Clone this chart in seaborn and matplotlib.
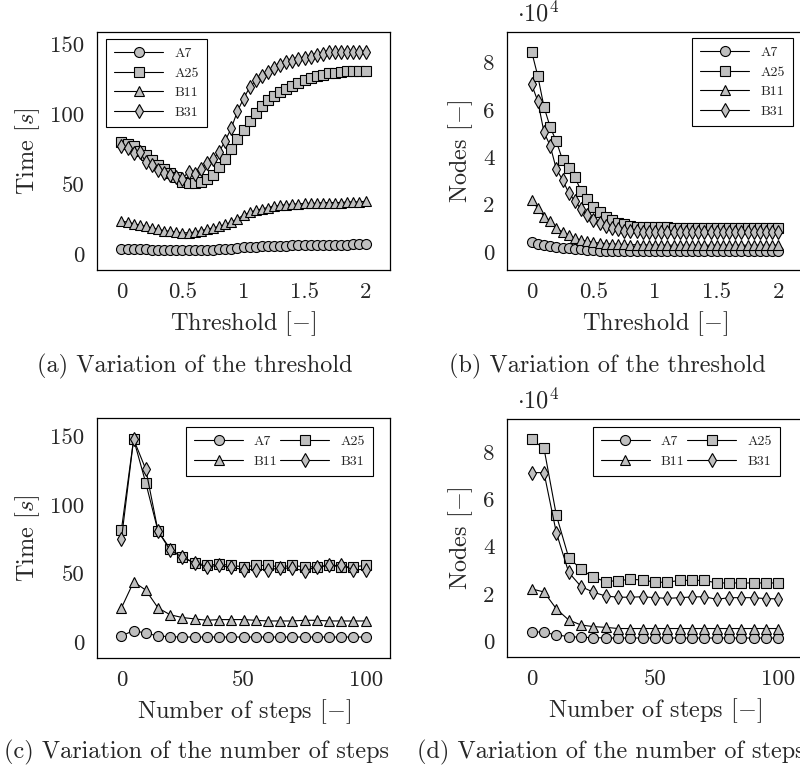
import numpy as np
import pandas as pd
import seaborn as sns
import matplotlib.pyplot as plt
from matplotlib import ticker

#%% data
# (a) / (b) : threshold from 0 to 2, step 0.05
threshold = [round(0.05 * i, 2) for i in range(41)]

time_thr_A7 = [4.0, 4.0, 3.8, 3.7, 3.6, 3.5, 3.4, 3.3, 3.3, 3.2, 3.2, 3.2, 3.2, 3.3, 3.4, 3.5,
               3.7, 4.0, 4.3, 4.7, 5.1, 5.4, 5.7, 5.9, 6.1, 6.2, 6.3, 6.4, 6.5, 6.6, 6.7, 6.8,
               6.8, 6.9, 7.0, 7.0, 7.1, 7.1, 7.2, 7.2, 7.3]
time_thr_A25 = [80, 79, 77, 74, 71, 67, 64, 61, 58, 55, 52, 51, 51, 52, 54, 57,
                62, 68, 75, 82, 89, 95, 101, 106, 110, 113, 116, 118, 120, 122, 124, 125.5,
                127, 128, 129, 129.5, 130, 130.5, 131, 131, 131]
time_thr_B11 = [24, 23, 22, 21, 20, 19, 18, 17, 16.5, 16, 15.5, 15.5, 16, 17, 18, 19,
                20, 21.5, 23, 25.5, 28, 30, 31.5, 32.5, 33.5, 34.5, 35, 35.5, 36, 36, 36.5, 36.5,
                36.5, 37, 37, 37, 37, 37.5, 37.5, 37.5, 38]
time_thr_B31 = [77, 76, 72, 73, 66, 64, 60, 58, 57, 55, 54, 59, 57.5, 61, 65, 68,
                73, 81, 90, 102, 111, 119, 124, 127.5, 130, 133, 135, 137, 138, 139, 140, 140.5,
                142, 143, 144.5, 144.5, 144.5, 144.5, 144.5, 144.5, 144.5]

nodes_thr_A7 = [4000, 3500, 3000, 2600, 2200, 1800, 1500, 1200, 1000, 800, 600, 500, 400, 350, 300, 280,
                260, 250, 240, 230, 220, 210, 200, 200, 200, 200, 200, 200, 200, 200, 200, 200,
                200, 200, 200, 200, 200, 200, 200, 200, 200]
nodes_thr_A25 = [84700, 74300, 61300, 52800, 46700, 39000, 35400, 31600, 25900, 22200, 19100, 16700,
                 14900, 13500, 12300, 11600, 11000, 10700, 10500, 10400, 10300, 10300, 10300, 10200,
                 10200, 10200, 10200, 10200, 10200, 10200, 10200, 10200, 10200, 10200, 10200, 10200,
                 10200, 10200, 10200, 10200, 10200]
nodes_thr_B11 = [21900, 18400, 14900, 13200, 9900, 8500, 7100, 5700, 5000, 4500, 4000, 3700,
                 3500, 3300, 3200, 3100, 3000, 3000, 2900, 2900, 2900, 2800, 2800, 2800,
                 2800, 2800, 2800, 2800, 2800, 2800, 2800, 2800, 2800, 2800, 2800, 2800,
                 2800, 2800, 2800, 2800, 2800]
nodes_thr_B31 = [70800, 63700, 50600, 44900, 35000, 30500, 25000, 21500, 18100, 15600, 13500, 12000,
                 11000, 10000, 9500, 9000, 8800, 8600, 8500, 8500, 8500, 8500, 8500, 8500,
                 8500, 8500, 8500, 8500, 8500, 8500, 8500, 8500, 8500, 8500, 8500, 8500,
                 8500, 8500, 8500, 8500, 8500]

# (c) / (d) : number of steps from 0 to 100, step 5
steps = list(range(0, 101, 5))

time_st_A7 = [4.6, 8.5, 6.6, 4.6, 4.0, 3.8, 3.8, 3.8, 3.8, 3.8, 3.8,
              3.8, 3.8, 3.8, 3.8, 3.8, 3.8, 3.8, 3.8, 3.8, 3.8]
time_st_A25 = [82, 148, 116, 81, 68, 62, 58, 56, 57, 56, 55,
               56, 56, 55, 56, 55, 55, 56, 55, 55, 56]
time_st_B11 = [25, 44, 38, 25, 20, 18, 17, 16, 16.5, 16.5, 16.5,
               16, 15.5, 15.5, 15.5, 16, 16, 15.5, 15.5, 15.5, 15.5]
time_st_B31 = [75, 148, 126, 81, 67, 62, 57.6, 55, 56, 54.5, 53,
               53, 53, 54, 54, 52, 55, 56, 56, 53, 53]

nodes_st_A7 = [4200, 3900, 2800, 2100, 1800, 1700, 1500, 1500, 1500, 1500, 1500,
               1500, 1500, 1500, 1500, 1500, 1500, 1500, 1500, 1500, 1500]
nodes_st_A25 = [85200, 81400, 53300, 35400, 30500, 27100, 25300, 25700, 26200, 26000, 25000,
                25000, 25800, 25800, 25800, 24700, 24700, 24700, 24700, 24700, 24700]
nodes_st_B11 = [22200, 20900, 13800, 9100, 7000, 6300, 6000, 5500, 5500, 5500, 5500,
                5500, 5500, 5500, 5500, 5500, 5500, 5500, 5500, 5500, 5500]
nodes_st_B31 = [71200, 71200, 45900, 29200, 23200, 20800, 19200, 18700, 18700, 18900, 18500,
                18200, 18500, 18800, 18900, 17800, 18500, 18500, 18500, 18100, 18000]

cases = ["A7", "A25", "B11", "B31"]

#%% style
sns.set_style("white")
plt.rcParams["font.family"] = ["cmr10", "DejaVu Serif"]
plt.rcParams["mathtext.fontset"] = "cm"
plt.rcParams["axes.formatter.use_mathtext"] = True
plt.rcParams["axes.unicode_minus"] = False

FS_TICK = 16.5
FS_LAB = 17.5
markers = {"A7": ("o", 7.2), "A25": ("s", 7.6), "B11": ("^", 6.5), "B31": ("d", 7.2)}
fill = "#bfbfbf"

fig = plt.figure(figsize=(8, 7.77), dpi=100)
W, H = 800, 777


def px_axes(l, t, r, b):
    return fig.add_axes([l / W, 1 - b / H, (r - l) / W, (b - t) / H])


def draw(ax, x, series, xlim, ylim, xticks, yticks, ylabel, xlabel, scale=1.0,
         loc="upper left", anchor=(0, 1), ncol=1):
    for name, vals in zip(cases, series):
        df = pd.DataFrame({"x": x, "y": np.array(vals) / scale})
        m, ms = markers[name]
        sns.lineplot(data=df, x="x", y="y", ax=ax, color="black", linewidth=0.8,
                     marker=m, markersize=ms, markerfacecolor=fill,
                     markeredgecolor="black", markeredgewidth=0.8, label=name)
    ax.set_xlim(xlim)
    ax.set_ylim(ylim)
    ax.set_xticks(xticks)
    ax.set_yticks(yticks)
    ax.xaxis.set_major_formatter(ticker.FormatStrFormatter("%g"))
    ax.yaxis.set_major_formatter(ticker.FormatStrFormatter("%g"))
    ax.tick_params(labelsize=FS_TICK, length=0, pad=9)
    for s in ax.spines.values():
        s.set_color("black")
        s.set_linewidth(0.9)
    ax.set_xlabel(xlabel, fontsize=FS_LAB, labelpad=5)
    ax.set_ylabel(ylabel, fontsize=FS_LAB, labelpad=6)

    handles, labels = ax.get_legend_handles_labels()
    if ncol == 2:
        # row-wise order: A7 A25 / B11 B31
        order = [0, 2, 1, 3]
        handles = [handles[i] for i in order]
        labels = [labels[i] for i in order]
    leg = ax.legend(handles, labels, loc=loc, bbox_to_anchor=anchor, ncol=ncol,
                    fontsize=10, frameon=True, fancybox=False, edgecolor="black",
                    framealpha=1, handlelength=3.5, handletextpad=0.8,
                    labelspacing=0.5, columnspacing=0.2, borderaxespad=0,
                    borderpad=0.6)
    leg.get_frame().set_linewidth(0.8)


ax_a = px_axes(97, 32, 390, 270)
ax_b = px_axes(507, 32, 803, 270)
ax_c = px_axes(97, 418, 390, 658)
ax_d = px_axes(507, 419, 803, 657)

draw(ax_a, threshold, [time_thr_A7, time_thr_A25, time_thr_B11, time_thr_B31],
     (-0.2, 2.2), (-11, 158.5), [0, 0.5, 1, 1.5, 2], [0, 50, 100, 150],
     r"Time [$s$]", r"Threshold [$-$]", loc="upper left", anchor=(0.031, 0.971))
draw(ax_b, threshold, [nodes_thr_A7, nodes_thr_A25, nodes_thr_B11, nodes_thr_B31],
     (-0.2, 2.2), (-0.77, 9.3), [0, 0.5, 1, 1.5, 2], [0, 2, 4, 6, 8],
     r"Nodes [$-$]", r"Threshold [$-$]", scale=1e4, loc="upper right",
     anchor=(0.966, 0.975))
draw(ax_c, steps, [time_st_A7, time_st_A25, time_st_B11, time_st_B31],
     (-10, 110), (-11.5, 163.5), [0, 50, 100], [0, 50, 100, 150],
     r"Time [$s$]", r"Number of steps [$-$]", loc="upper right",
     anchor=(0.942, 0.9625), ncol=2)
draw(ax_d, steps, [nodes_st_A7, nodes_st_A25, nodes_st_B11, nodes_st_B31],
     (-10, 110), (-0.65, 9.38), [0, 50, 100], [0, 2, 4, 6, 8],
     r"Nodes [$-$]", r"Number of steps [$-$]", scale=1e4, loc="upper right",
     anchor=(0.922, 0.966), ncol=2)

for ax in (ax_b, ax_d):
    ax.text(0.035, 1.025, r"$\cdot 10^4$", transform=ax.transAxes, fontsize=FS_LAB,
            ha="left", va="bottom")

#%% captions
fig.text(195 / W, 1 - 366 / H, "(a) Variation of the threshold", fontsize=FS_LAB, ha="center", va="center")
fig.text(607 / W, 1 - 366 / H, "(b) Variation of the threshold", fontsize=FS_LAB, ha="center", va="center")
fig.text(196 / W, 1 - 752 / H, "(c) Variation of the number of steps", fontsize=FS_LAB, ha="center", va="center")
fig.text(611 / W, 1 - 752 / H, "(d) Variation of the number of steps", fontsize=FS_LAB, ha="center", va="center")

fig.savefig("out.png", dpi=100)
